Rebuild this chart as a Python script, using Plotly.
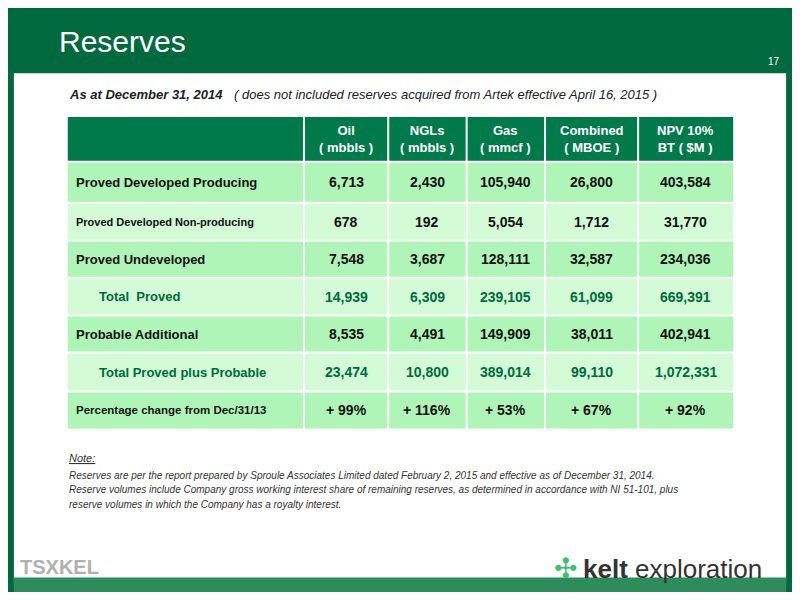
import plotly.graph_objects as go

headers = ["Oil<br>( mbbls )", "NGLs<br>( mbbls )", "Gas<br>( mmcf )", "Combined<br>( MBOE )", "NPV 10%<br>BT ( $M )"]
row_labels = ["Proved Developed Producing", "Proved Developed Non-producing", "Proved Undeveloped",
              "Total  Proved", "Probable Additional", "Total Proved plus Probable",
              "Percentage change from Dec/31/13"]
oil = ["6,713", "678", "7,548", "14,939", "8,535", "23,474", "+ 99%"]
ngls = ["2,430", "192", "3,687", "6,309", "4,491", "10,800", "+ 116%"]
gas = ["105,940", "5,054", "128,111", "239,105", "149,909", "389,014", "+ 53%"]
combined = ["26,800", "1,712", "32,587", "61,099", "38,011", "99,110", "+ 67%"]
npv = ["403,584", "31,770", "234,036", "669,391", "402,941", "1,072,331", "+ 92%"]

cols = [oil, ngls, gas, combined, npv]
xb = [61, 302, 388, 468, 548, 643, 740]
row_tops = [159, 201, 240, 278, 317, 355, 395, 434]
fills = ["#b0f5b8", "#d2fbd6", "#b0f5b8", "#d2fbd6", "#b0f5b8", "#d2fbd6", "#b0f5b8"]
label_sizes = [13, 11, 13, 13, 13, 13, 11.5]
indent = [False, False, False, True, False, True, False]
total = [False, False, False, True, False, True, False]

F = "Liberation Sans, Arial"
G = "#006a3e"
shapes = []
ann = []
def rect(x0, y0, x1, y1, fill):
    shapes.append(dict(type="rect", x0=x0, y0=y0, x1=x1, y1=y1, fillcolor=fill,
                       line=dict(width=0), layer="below"))
def text(x, y, t, size, color="#000", anchor="center", bold=False, italic=False):
    if bold: t = "<b>" + t + "</b>"
    if italic: t = "<i>" + t + "</i>"
    ann.append(dict(x=x, y=y, text=t, showarrow=False, xanchor=anchor, yanchor="middle",
                    font=dict(size=size, color=color, family=F)))

rect(0, 0, 800, 600, G)
rect(6, 67, 794, 590, "white")
rect(6, 585, 794, 600, "#2e8b5c")
text(50, 34, "Reserves", 30, "white", "left")
text(790, 55, "17", 10, "white", "right")
text(60, 89, "As at December 31, 2014", 13, "#222", "left", bold=True, italic=True)
text(229, 89, "( does not included reserves acquired from Artek effective April 16, 2015 )", 13, "#222", "left", italic=True)

rect(xb[0], 112, xb[-1], 157, "#007a4a")
for i, h in enumerate(headers):
    text((xb[i+1] + xb[i+2]) / 2, 135, h, 13, "white", bold=True)
for r, lab in enumerate(row_labels):
    y0, y1 = row_tops[r], row_tops[r+1] - 2
    rect(xb[0], y0, xb[-1], y1, fills[r])
    yc = (y0 + y1) / 2
    col = "#006a3e" if total[r] else "#111"
    text(xb[0] + (30 if indent[r] else 6), yc, lab, label_sizes[r], col, "left", bold=True)
    for c in range(5):
        text((xb[c+1] + xb[c+2]) / 2, yc, cols[c][r], 14, col, bold=True)
for x in xb[1:-1]:
    shapes.append(dict(type="line", x0=x, x1=x, y0=112, y1=row_tops[-1] - 2, line=dict(color="white", width=2)))

text(60, 462, "<u>Note:</u>", 11, "#333", "left", italic=True)
notes = ["Reserves are per the report prepared by Sproule Associates Limited dated February 2, 2015 and effective as of December 31, 2014.",
         "Reserve volumes include Company gross working interest share of remaining reserves, as determined in accordance with NI 51-101, plus",
         "reserve volumes in which the Company has a royalty interest."]
for i, n in enumerate(notes):
    text(60, 480 + i * 15, n, 10, "#333", "left", italic=True)
text(10, 574, "TSXKEL", 20, "#b0b0b0", "left", bold=True)
text(555, 576, "✣", 28, "#3fbf6f", "left")
text(585, 576, "<b>kelt</b> exploration", 26, "#333", "left")

fig = go.Figure()
fig.update_layout(width=784, height=584, margin=dict(l=0, r=0, t=0, b=0),
                  xaxis=dict(range=[0, 800], visible=False, fixedrange=True),
                  yaxis=dict(range=[600, 0], visible=False, fixedrange=True),
                  plot_bgcolor="white", paper_bgcolor="white", shapes=shapes, annotations=ann, showlegend=False)
fig.write_html("out.html")
